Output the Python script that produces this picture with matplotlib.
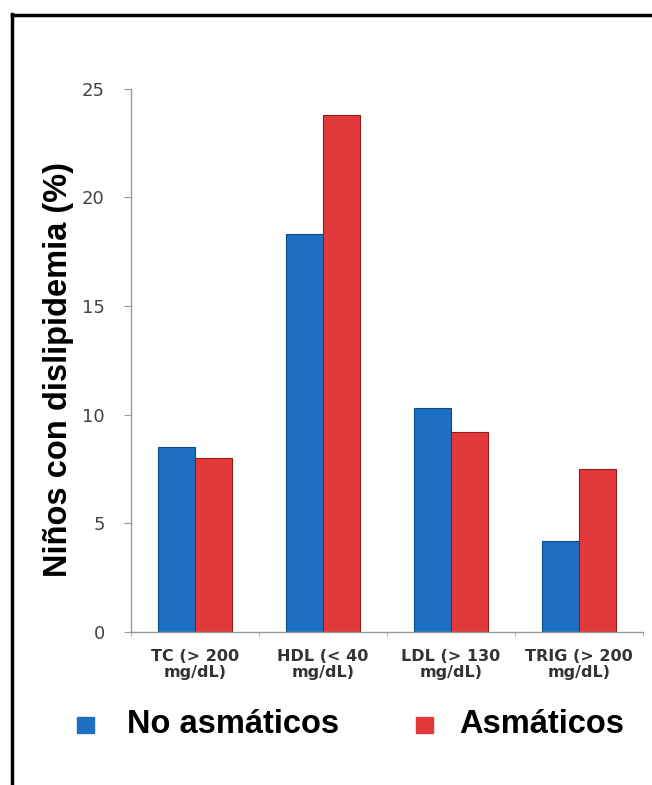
import matplotlib
matplotlib.use("Agg")
import matplotlib.pyplot as plt
import numpy as np
from matplotlib.lines import Line2D
from matplotlib.patches import Rectangle

categories = ["TC (> 200\nmg/dL)", "HDL (< 40\nmg/dL)", "LDL (> 130\nmg/dL)", "TRIG (> 200\nmg/dL)"]
no_asmaticos = [8.5, 18.3, 10.3, 4.2]
asmaticos = [8.0, 23.8, 9.2, 7.5]
series_names = ["No asmáticos", "Asmáticos"]
yticks = [0, 5, 10, 15, 20, 25]

blue = "#1c6fc2"
red = "#e23a3a"
arial = "Liberation Sans"
W, H = 652, 785

fig = plt.figure(figsize=(6.52, 7.85), dpi=100)
ax = fig.add_axes([0.201, 0.195, 0.785, 0.692])

x = np.arange(len(categories))
w = 0.29
ax.bar(x - w / 2, no_asmaticos, w, color=blue, edgecolor="#0d4a8a", linewidth=0.8)
ax.bar(x + w / 2, asmaticos, w, color=red, edgecolor="#961c1c", linewidth=0.8)

ax.set_xlim(-0.5, len(categories) - 0.5)
ax.set_ylim(0, 25)
ax.set_yticks(yticks)
ax.set_yticklabels([str(t) for t in yticks], fontsize=13, color="#444444")
ax.tick_params(axis="y", length=5, color="#999999", pad=14)

ax.set_xticks(x)
ax.set_xticklabels(categories, fontsize=11.5, fontweight="bold", color="#333333",
                   linespacing=1.1)
ax.tick_params(axis="x", length=0, pad=12)
ax.set_xticks(np.arange(len(categories) + 1) - 0.5, minor=True)
ax.tick_params(axis="x", which="minor", length=3, color="#999999")

for side in ["top", "right"]:
    ax.spines[side].set_visible(False)
for side in ["left", "bottom"]:
    ax.spines[side].set_color("#999999")
    ax.spines[side].set_linewidth(1.0)

ax.set_ylabel("Niños con dislipidemia (%)", fontsize=23.5, fontweight="bold",
              family=arial)
ax.yaxis.set_label_coords(-57 / 512, (632 - 370) / 543)

# legend drawn by hand
fig.add_artist(Rectangle((77 / W, 1 - 733 / H), 17 / W, 16 / H,
                         transform=fig.transFigure, color=blue))
fig.text(127 / W, 1 - 733 / H, series_names[0], fontsize=23.5, fontweight="bold",
         family=arial, va="baseline", ha="left")
fig.add_artist(Rectangle((416 / W, 1 - 733 / H), 17 / W, 16 / H,
                         transform=fig.transFigure, color=red))
fig.text(459 / W, 1 - 733 / H, series_names[1], fontsize=23.5, fontweight="bold",
         family=arial, va="baseline", ha="left")

# outer frame
fig.add_artist(Line2D([11.5 / W, 11.5 / W], [0, 1 - 14 / H],
                      transform=fig.transFigure, color="black", linewidth=2.5))
fig.add_artist(Line2D([11.5 / W, 1], [1 - 14.5 / H, 1 - 14.5 / H],
                      transform=fig.transFigure, color="black", linewidth=2.5))

fig.savefig("out.png", dpi=100)
